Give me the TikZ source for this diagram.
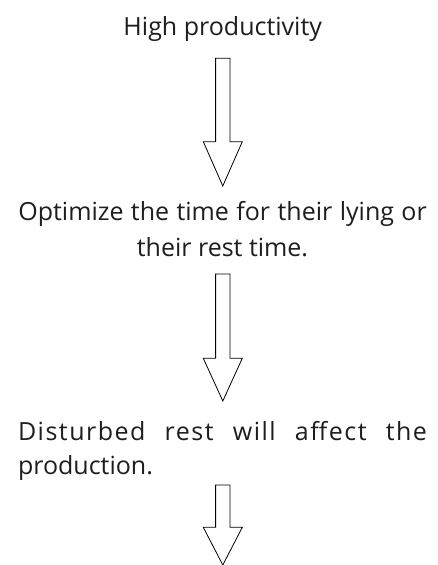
\documentclass[tikz,border=0pt]{standalone}
\usepackage{fontspec}
\setmainfont{Open Sans}
\definecolor{txt}{HTML}{1E1E1E}
\newcommand\blockarr[4]{% cx, top, shoulder, tip
  \draw[blockarrow] (#1-7.2,#2) -- (#1+7.2,#2) -- (#1+7.2,#3) -- (#1+19.5,#3)
    -- (#1,#4) -- (#1-19.5,#3) -- (#1-7.2,#3) -- cycle;}
\begin{document}
\begin{tikzpicture}[x=1pt,y=-1pt,
  lbl/.style={inner sep=0pt, outer sep=0pt, text=txt, font=\fontsize{25}{30}\selectfont},
  blockarrow/.style={draw=black, line width=0.8pt, fill=white, line join=miter}]
\useasboundingbox (0,0) rectangle (437,565);
\fill[white] (0,0) rectangle (437,565);
\node[lbl, anchor=base] (t1) at (222.7,35) {High productivity};
\node[lbl, anchor=base west] (o1) at (18.3,220.5) {\makebox[408.5pt][s]{Optimize the time for their lying or}};
\node[lbl, anchor=base] (o2) at (222.5,256) {their rest time.};
\node[lbl, anchor=base west] (d1) at (18,440) {\makebox[409pt][s]{\addfontfeature{LetterSpace=6}Disturbed rest will affect the}};
\node[lbl, anchor=base west] (d2) at (18,474.5) {production.};
\blockarr{222.8}{58.3}{141.7}{186}
\blockarr{222.8}{274}{358.3}{401}
\blockarr{222.8}{485}{527.3}{565}
\end{tikzpicture}
\end{document}
